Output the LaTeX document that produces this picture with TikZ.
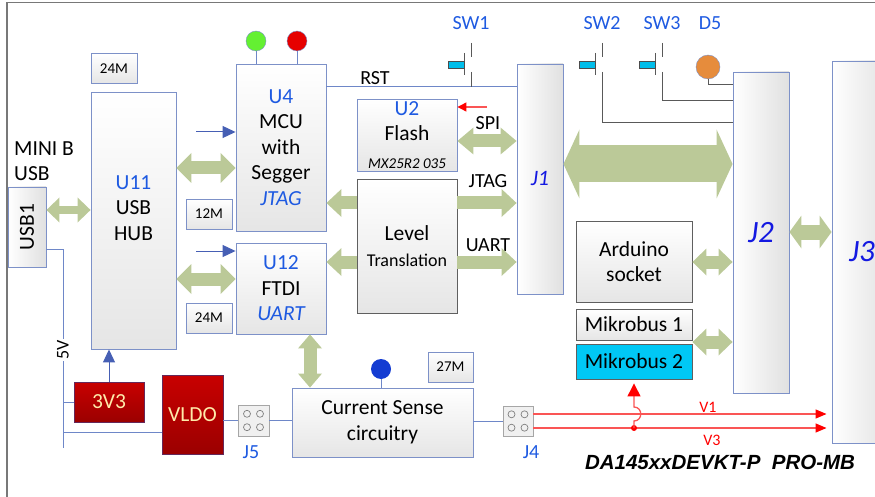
\documentclass[tikz,border=0pt]{standalone}
\usepackage{fontspec}
\setmainfont{Carlito}
\newfontfamily\titlefont{Liberation Sans}
\usetikzlibrary{arrows.meta}

\definecolor{lblblue}{RGB}{30,90,225}
\definecolor{jblue}{RGB}{20,25,225}
\definecolor{boxblue}{RGB}{125,145,200}
\definecolor{boxgray}{RGB}{95,95,95}
\definecolor{wireblue}{RGB}{110,135,200}
\definecolor{arrblue}{RGB}{70,95,180}
\definecolor{busgreen}{RGB}{187,201,152}
\definecolor{pwrred}{RGB}{200,0,0}
\definecolor{pwrdark}{RGB}{155,0,0}
\definecolor{pwrborder}{RGB}{100,40,90}
\definecolor{pwrtext}{RGB}{255,235,170}
\definecolor{mikcyan}{RGB}{0,200,245}
\definecolor{swcyan}{RGB}{0,190,235}
\definecolor{ledgreen}{RGB}{100,240,50}
\definecolor{ledred}{RGB}{230,0,0}
\definecolor{ledorange}{RGB}{230,140,60}
\definecolor{dotblue}{RGB}{20,60,210}
\definecolor{vred}{RGB}{250,85,85}
\definecolor{framegray}{RGB}{120,120,120}

\tikzset{
  blk/.style={draw=boxblue, line width=0.9pt, top color=white, bottom color=black!10, inner sep=0pt, align=center},
  gblk/.style={blk, draw=boxgray},
  conn/.style={draw=boxblue, line width=0.9pt, left color=white, right color=black!12, inner sep=0pt},
  xtal/.style={blk, minimum width=46pt, minimum height=30pt, font=\fontsize{15}{18}\selectfont},
  pwr/.style={draw=pwrborder, line width=0.9pt, top color=pwrred, bottom color=pwrdark, text=pwrtext, inner sep=0pt},
  hdr/.style={draw=gray!70, fill=gray!12, minimum size=31pt, inner sep=0pt},
  led/.style={circle, draw=boxblue, minimum size=20pt, inner sep=0pt},
  bluelbl/.style={text=lblblue, font=\fontsize{20}{24}\selectfont},
  buslbl/.style={font=\fontsize{20}{24}\selectfont},
  wire/.style={draw=wireblue, line width=1pt},
  swline/.style={draw=black!65, line width=1pt},
  thinarr/.style={draw=arrblue, line width=1pt, -{Triangle[length=13pt,width=12pt]}},
  vline/.style={draw=vred, line width=1.3pt, -{Triangle[length=11pt,width=9pt,color=red]}},
  dbus/.style n args={3}{draw=busgreen, line width=#1,
    arrows={Triangle[width=#2,length=#3,line width=0pt]-Triangle[width=#2,length=#3,line width=0pt]}},
  sbus/.style n args={3}{draw=busgreen, line width=#1,
    arrows={-Triangle[width=#2,length=#3,line width=0pt]}}
}

\begin{document}
\begin{tikzpicture}[x=1pt, y=-1pt, font=\fontsize{21.5}{25.5}\selectfont]
\useasboundingbox (0,0) rectangle (875,497);
\draw[framegray, line width=1.3pt] (7,497) -- (7,2.5) -- (875,2.5);

\node[conn, minimum width=38pt, minimum height=80pt] (usb1) at (27,227) {\rotatebox{90}{USB1}};
\node[align=left, anchor=west, inner sep=0pt] (minib) at (14,161) {MINI B\\USB};
\node[blk, minimum width=85pt, minimum height=257pt] (u11) at (133.5,220.5) {};
\node[align=center] (u11txt) at (133.5,208) {\textcolor{lblblue}{U11}\\USB\\HUB};
\node[blk, minimum width=90pt, minimum height=167pt] (u4) at (281,147.5) {\textcolor{lblblue}{U4}\\MCU\\with\\Segger\\\textcolor{lblblue}{\itshape JTAG}};
\node[blk, minimum width=90pt, minimum height=91pt] (u12) at (281,288.5) {\textcolor{lblblue}{U12}\\FTDI\\\textcolor{lblblue}{\itshape UART}};
\node[blk, minimum width=100pt, minimum height=72pt] (u2) at (407,135) {\textcolor{lblblue}{U2}\\Flash\\[2pt]{\fontsize{15}{18}\selectfont\itshape MX25R2 035}};
\node[gblk, minimum width=100pt, minimum height=134pt] (lvl) at (407,246) {Level\\{\fontsize{18}{22}\selectfont Translation}};
\node[conn, minimum width=46pt, minimum height=230pt, text=jblue, font=\fontsize{22}{26}\selectfont\itshape] (j1) at (540,179) {J1};
\node[conn, minimum width=56pt, minimum height=321pt, text=jblue, font=\fontsize{31}{36}\selectfont\itshape] (j2) at (761,232.5) {J2};
\node[conn, minimum width=60pt, minimum height=382pt, text=jblue, font=\fontsize{31}{36}\selectfont\itshape] (j3) at (862,252) {J3};
\node[gblk, minimum width=116pt, minimum height=81pt] (ard) at (634,261.5) {Arduino\\socket};
\node[gblk, minimum width=116pt, minimum height=31pt] (mik1) at (634,324.5) {Mikrobus 1};
\node[draw=boxgray, line width=0.9pt, fill=mikcyan, inner sep=0pt, minimum width=116pt, minimum height=35pt] (mik2) at (634,361.5) {Mikrobus 2};
\node[blk, minimum width=181pt, minimum height=69pt] (cs) at (382.5,422.5) {Current Sense\\circuitry};
\node[pwr, minimum width=70pt, minimum height=40pt] (v33) at (109,402) {3V3};
\node[pwr, minimum width=61pt, minimum height=79pt] (vldo) at (192.5,414.5) {VLDO};

\node[xtal] (xa) at (114,68.5) {24M};
\node[xtal] (xb) at (209,214) {12M};
\node[xtal] (xc) at (209,318) {24M};
\node[xtal, minimum width=45pt] (xd) at (450.5,367) {27M};

\node[hdr] (j5) at (253.5,420.5) {};
\node[hdr, minimum size=30pt] (j4) at (518,421) {};
\foreach \n in {j5,j4}
  \foreach \dx/\dy in {-6.5/-6.7, 6.5/-6.7, -6.5/6.7, 6.5/6.7}
    \draw[gray, line width=0.7pt] ([shift={(\dx,\dy)}]\n.center) circle (3.5pt);
\node[bluelbl] (j5lbl) at (251,452) {J5};
\node[bluelbl] (j4lbl) at (531,452) {J4};

\node[led, fill=ledgreen] (gled) at (256,41) {};
\node[led, fill=ledred] (rled) at (297,41) {};
\node[led, fill=ledorange, minimum size=24pt] (d5) at (708,67) {};
\node[circle, fill=dotblue, minimum size=20pt, inner sep=0pt] (bdot) at (381,369) {};
\draw[wire] (gled.south) -- (gled.south |- u4.north);
\draw[wire] (rled.south) -- (rled.south |- u4.north);
\draw[wire] (bdot.south) -- (bdot.south |- cs.north);

\node[bluelbl] (sw1) at (471,23) {SW1};
\node[bluelbl] (sw2) at (602,23) {SW2};
\node[bluelbl] (sw3) at (662,23) {SW3};
\node[bluelbl] (d5lbl) at (710,23) {D5};
\foreach \s/\x in {sw1c/471, sw2c/602, sw3c/662} {
  \coordinate (\s) at (\x,72);
  \draw[swline] (\x,43) -- (\x,57);
  \draw[swline] (\x-7,53) -- (\x-7,75);
  \filldraw[draw=black!70, fill=swcyan, line width=0.8pt] (\x-23,61) rectangle (\x-7,68);
}
\node[buslbl] (rst) at (375,78) {RST};
\draw[wire] (u4.east |- 0,87) -- (j1.west |- 0,87);
\draw[swline] (sw1c) -- (sw1c |- 0,87);
\draw[swline] (sw2c) |- (j2.west |- 0,123);
\draw[swline] (sw3c) |- (j2.west |- 0,101);
\draw[swline] (d5.south) |- (j2.west |- 0,85);

\node[buslbl] (spi) at (488,123) {SPI};
\node[buslbl] (jtag) at (488,181) {JTAG};
\node[buslbl] (uart) at (488,245) {UART};

\draw[dbus={8pt}{25pt}{13pt}] (usb1.east |- 0,210) -- (u11.west |- 0,210);
\draw[dbus={13pt}{30pt}{15pt}] (u11.east |- 0,168) -- (u4.west |- 0,168);
\draw[dbus={13pt}{30pt}{15pt}] (u11.east |- 0,279) -- (u12.west |- 0,279);
\draw[sbus={13pt}{28pt}{15pt}] (lvl.west |- 0,203) -- (u4.east |- 0,203);
\draw[sbus={13pt}{28pt}{15pt}] (lvl.west |- 0,262) -- (u12.east |- 0,262);
\draw[dbus={13pt}{27pt}{16pt}] (u2.east |- 0,141) -- (j1.west |- 0,141);
\draw[sbus={13pt}{28pt}{15pt}] (lvl.east |- 0,203) -- (j1.west |- 0,203);
\draw[sbus={13pt}{28pt}{15pt}] (lvl.east |- 0,262) -- (j1.west |- 0,262);
\draw[dbus={37pt}{69pt}{16pt}] (j1.east |- 0,164) -- (j2.west |- 0,164);
\draw[dbus={15pt}{33pt}{12pt}] (j2.east |- 0,232) -- (j3.west |- 0,232);
\draw[dbus={13pt}{27pt}{14pt}] (ard.east |- 0,262) -- (j2.west |- 0,262);
\draw[dbus={13pt}{27pt}{14pt}] (mik1.east |- 0,342) -- (j2.west |- 0,342);
\draw[dbus={13pt}{24pt}{14pt}] (u12.south -| 310,0) -- (cs.north -| 310,0);

\coordinate (inu4) at (196,132);
\coordinate (inu12) at (196,251);
\coordinate (spiin) at (487,107);
\draw[thinarr] (inu4) -- (u4.west |- inu4);
\draw[thinarr] (inu12) -- (u12.west |- inu12);
\draw[thinarr] (v33.north) -- (v33.north |- u11.south);
\draw[draw=vred, line width=1.2pt, -{Triangle[length=9pt,width=9pt,color=red]}] (spiin) -- (u2.east |- spiin);

\coordinate (vbus) at (63,448);
\draw[wire] (usb1.east |- 0,249) -| (vbus);
\draw[wire] (vbus |- v33.west) -- (v33.west);
\draw[wire] (vbus |- 0,432) -- (vldo.west |- 0,432);
\node[rotate=90, fill=white, inner sep=1pt, font=\fontsize{18}{22}\selectfont] (fivev) at (63,350) {5V};
\draw[wire] (vldo.east |- j5.west) -- (j5.west);
\draw[wire] (j5.east) -- (cs.west |- j5.east);
\draw[wire] (cs.east |- j4.west) -- (j4.west);

\draw[vline, shorten >=5pt] (j4.east |- 0,414) -- (j3.west |- 0,414);
\draw[vline, shorten >=5pt] (j4.east |- 0,428) -- (j3.west |- 0,428);
\node[text=red, font=\fontsize{16}{19}\selectfont] (v1) at (708,407) {V1};
\node[text=red, font=\fontsize{16}{19}\selectfont] (v3) at (712,440) {V3};
\node[circle, fill=red, inner sep=0pt, minimum size=6pt] (jn) at (634,428) {};
\draw[draw=vred, line width=1.3pt, shorten >=4pt, -{Triangle[length=13pt,width=13pt,color=red]}]
  (jn.center) -- ++(0,-7) .. controls +(9,0) and +(9,0) .. ++(0,-14) -- (mik2.south);

\node[font=\titlefont\bfseries\itshape\fontsize{20.5}{24}\selectfont] (title) at (720,462) {DA145xxDEVKT-P\ \ PRO-MB};
\end{tikzpicture}
\end{document}
